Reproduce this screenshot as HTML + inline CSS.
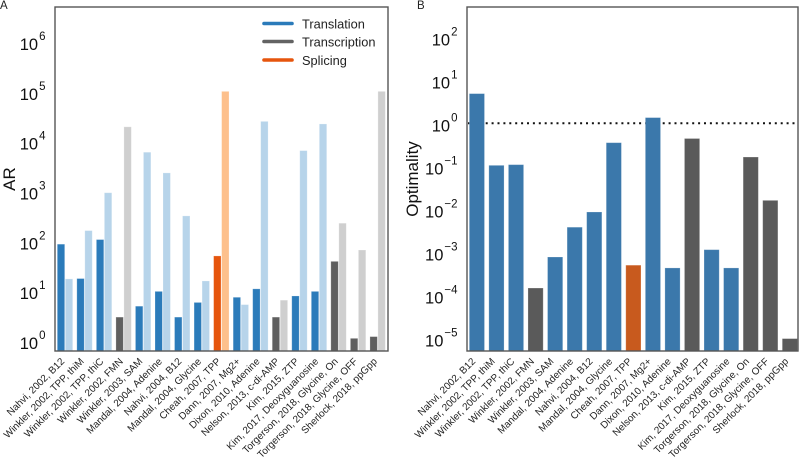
<!DOCTYPE html>
<html>
<head>
<meta charset="utf-8">
<style>
html,body{margin:0;padding:0;background:#fff;width:800px;height:457px;overflow:hidden}
svg{display:block;font-family:"Liberation Sans",sans-serif}
</style>
</head>
<body>
<svg id="chart" width="800" height="457" viewBox="0 0 800 457" xmlns="http://www.w3.org/2000/svg">
<text x="0" y="9" font-size="11.5" fill="#222">A</text>
<text x="417" y="9" font-size="11.5" fill="#222">B</text>
<text transform="translate(15,179) rotate(-90)" text-anchor="middle" font-size="17" fill="#111">AR</text>
<text transform="translate(418,179) rotate(-90)" text-anchor="middle" font-size="17" fill="#111">Optimality</text>
<g id="barsA"></g>
<g id="refLine"></g>
<g id="barsB"></g>
<rect x="55" y="7" width="333" height="344" fill="none" stroke="#555" stroke-width="1.4"/>
<rect x="467" y="7" width="331" height="344" fill="none" stroke="#555" stroke-width="1.4"/>
<g id="ticksA"></g>
<g id="ticksB"></g>
<g id="labelsA"></g>
<g id="labelsB"></g>
<g font-size="12.8" fill="#222">
<line x1="264" y1="23.5" x2="292" y2="23.5" stroke="#2b7bba" stroke-width="3.6" stroke-linecap="round"/>
<text x="302" y="28.5">Translation</text>
<line x1="264" y1="41.5" x2="292" y2="41.5" stroke="#636363" stroke-width="3.6" stroke-linecap="round"/>
<text x="302" y="46.5">Transcription</text>
<line x1="264" y1="60" x2="292" y2="60" stroke="#e6550d" stroke-width="3.6" stroke-linecap="round"/>
<text x="302" y="65">Splicing</text>
</g>
</svg>
<script>
const categories = ["Nahvi, 2002, B12","Winkler, 2002, TPP, thiM","Winkler, 2002, TPP, thiC","Winkler, 2002, FMN","Winkler, 2003, SAM","Mandal, 2004, Adenine","Nahvi, 2004, B12","Mandal, 2004, Glycine","Cheah, 2007, TPP","Dann, 2007, Mg2+","Dixon, 2010, Adenine","Nelson, 2013, c-di-AMP","Kim, 2015, ZTP","Kim, 2017, Deoxyguanosine","Torgerson, 2018, Glycine, On","Torgerson, 2018, Glycine, OFF","Sherlock, 2018, ppGpp"];
const mechanisms = ["Translation","Translation","Translation","Transcription","Translation","Translation","Translation","Translation","Splicing","Translation","Translation","Transcription","Translation","Translation","Transcription","Transcription","Transcription"];
const arDark = [93,19,115,3.2,5.3,10.5,3.2,6.3,54,8,11.8,3.2,8.5,10.5,42,1.2,1.3];
const arLight = [18.7,174,1000,21000,6500,2500,343,17,108000,5.7,27000,7,7000,24000,245,71,108000];
const optimality = [4.98,0.107,0.111,0.00015,0.00079,0.0039,0.0088,0.36,0.00051,1.38,0.00044,0.45,0.00117,0.00044,0.167,0.0164,0.00001];
const arTickExps = [0,1,2,3,4,5,6];
const optTickExps = [-5,-4,-3,-2,-1,0,1,2];
const optimalReference = [1];

const NS = "http://www.w3.org/2000/svg";
const plotBottom = 351;
const yA = v => 342 - 49.85 * Math.log10(v);
const yB = v => 123.3 - 43 * Math.log10(v);
const xA = i => 57 + 19.54 * i;
const xB = i => 469 + 19.56 * i;
const palA = {Translation:["#2b7bba","#b7d4ea"],Transcription:["#5f5f5f","#cfcfcf"],Splicing:["#e6550d","#fdc08c"]};
const palB = {Translation:"#3b78ab",Transcription:"#5a5a5a",Splicing:"#c85a1e"};

function makeRect(parent, x, top, w, fill) {
  const r = document.createElementNS(NS, "rect");
  r.setAttribute("x", x + 0.3);
  r.setAttribute("y", top + 0.3);
  r.setAttribute("width", w - 0.6);
  r.setAttribute("height", Math.max(0, plotBottom - top - 0.3));
  r.setAttribute("fill", fill);
  r.setAttribute("stroke", "rgba(255,255,255,0.28)");
  r.setAttribute("stroke-width", "0.8");
  parent.appendChild(r);
  return r;
}
const barsA = document.getElementById("barsA");
categories.forEach((c, i) => {
  const d = makeRect(barsA, xA(i), yA(arDark[i]), 8, palA[mechanisms[i]][0]);
  
  
  const l = makeRect(barsA, xA(i) + 8, yA(arLight[i]), 8, palA[mechanisms[i]][1]);
  
  
});
const refLine = document.getElementById("refLine");
optimalReference.forEach(v => {
  const ln = document.createElementNS(NS, "line");
  ln.setAttribute("x1", 468);
  ln.setAttribute("x2", 798);
  ln.setAttribute("y1", yB(v));
  ln.setAttribute("y2", yB(v));
  ln.setAttribute("stroke", "#111");
  ln.setAttribute("stroke-width", 2);
  ln.setAttribute("stroke-dasharray", "2 3.9");
  
  
  refLine.appendChild(ln);
});
const barsB = document.getElementById("barsB");
categories.forEach((c, i) => {
  const b = makeRect(barsB, xB(i), yB(optimality[i]), 15.8, palB[mechanisms[i]]);
  
  
});
function makeTick(parent, x, y, exp, off) {
  const t = document.createElementNS(NS, "text");
  t.setAttribute("x", x);
  t.setAttribute("y", y + off);
  t.setAttribute("text-anchor", "end");
  t.setAttribute("font-size", "16.5");
  t.setAttribute("fill", "#111");
  const base = document.createElementNS(NS, "tspan");
  base.textContent = "10";
  const sup = document.createElementNS(NS, "tspan");
  sup.setAttribute("dy", "-10");
  sup.setAttribute("dx", "1");
  sup.setAttribute("font-size", "11.5");
  sup.textContent = String(exp).replace("-", "\u2212");
  t.appendChild(base);
  t.appendChild(sup);
  
  
  parent.appendChild(t);
}
const ticksA = document.getElementById("ticksA");
arTickExps.forEach(e => makeTick(ticksA, 45.5, yA(Math.pow(10, e)), e, 7));
const ticksB = document.getElementById("ticksB");
optTickExps.forEach(e => makeTick(ticksB, 457.5, yB(Math.pow(10, e)), e, 8.2));
function makeLabel(parent, x, text) {
  const t = document.createElementNS(NS, "text");
  t.setAttribute("transform", "translate(" + x + ",362) rotate(-45)");
  t.setAttribute("text-anchor", "end");
  t.setAttribute("font-size", "10");
  t.setAttribute("fill", "#222");
  t.textContent = text;
  
  
  parent.appendChild(t);
}
const labelsA = document.getElementById("labelsA");
categories.forEach((c, i) => makeLabel(labelsA, xA(i) + 8, c));
const labelsB = document.getElementById("labelsB");
categories.forEach((c, i) => makeLabel(labelsB, xB(i) + 7, c));
</script>
</body>
</html>
